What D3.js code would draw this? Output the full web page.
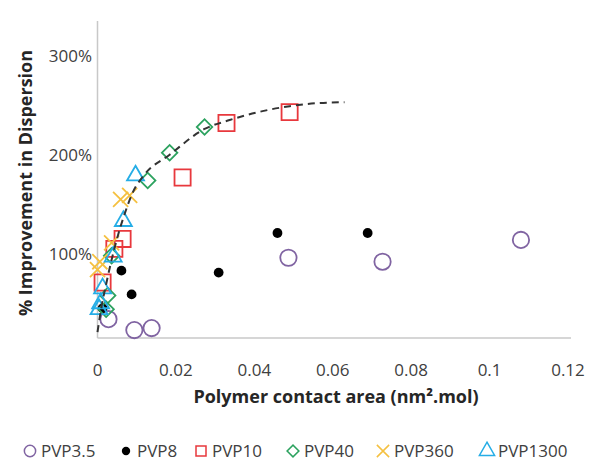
<!DOCTYPE html>
<html><head><meta charset="utf-8">
<script src="https://cdn.jsdelivr.net/npm/d3@7/dist/d3.min.js"></script>
<style>body{margin:0;background:#fff}svg{display:block}text{font-family:"Open Sans",sans-serif}</style>
</head><body>
<svg id="c" width="589" height="463"></svg>
<script>
const xTicks = [0, 0.02, 0.04, 0.06, 0.08, 0.1, 0.12];
const xTickLabels = ["0", "0.02", "0.04", "0.06", "0.08", "0.1", "0.12"];
const yTicks = [100, 200, 300];
const yTickLabels = ["100%", "200%", "300%"];

const pvp35X = [0.0028, 0.0094, 0.0138, 0.0487, 0.0727, 0.108];
const pvp35Y = [34, 23, 25, 96, 92, 114];
const pvp8X = [0.0013, 0.0061, 0.0087, 0.0309, 0.0459, 0.0689];
const pvp8Y = [45, 83, 59, 81, 121, 121];
const pvp10X = [0.0013, 0.0043, 0.0064, 0.0217, 0.0329, 0.049];
const pvp10Y = [71, 105, 115, 177, 232, 243];
const pvp40X = [0.0022, 0.0026, 0.0036, 0.0128, 0.0184, 0.0273];
const pvp40Y = [44, 58, 98, 174, 202, 228];
const pvp360X = [0.0000, 0.0006, 0.0036, 0.0059, 0.0082];
const pvp360Y = [84, 92, 111, 155, 159];
const pvp1300X = [0.0004, 0.0008, 0.0013, 0.0040, 0.0066, 0.0097];
const pvp1300Y = [44, 50, 65, 97, 133, 179];

const trendX = [0.0000, 0.0010, 0.0023, 0.0036, 0.0051, 0.0069, 0.0090, 0.0120, 0.0184, 0.0273, 0.0337, 0.0421, 0.0490, 0.0559, 0.0630];
const trendY = [21, 46, 71, 94, 117, 140, 162, 180, 200, 226, 235, 244, 249, 252, 253];

const seriesNames = ["PVP3.5", "PVP8", "PVP10", "PVP40", "PVP360", "PVP1300"];
const seriesColors = ["#8064a2", "#000000", "#e8383d", "#2ca25f", "#f5c040", "#25ade6"];
const seriesSymbols = [d3.symbolCircle, d3.symbolCircle, d3.symbolSquare, d3.symbolSquare, d3.symbolTimes, d3.symbolTriangle];

const svg = d3.select("#c");
const x = d3.scaleLinear().domain([0, 0.12]).range([97.5, 568]);
const y = d3.scaleLinear().domain([15, 335]).range([338, 21]);

// axes lines
svg.append("line").attr("x1", 97.5).attr("x2", 571).attr("y1", 338).attr("y2", 338)
  .attr("stroke", "#c8c8c8").attr("stroke-width", 1.5);
svg.append("line").attr("x1", 97.5).attr("x2", 97.5).attr("y1", 21).attr("y2", 338)
  .attr("stroke", "#c8c8c8").attr("stroke-width", 1.5);

// x ticks
svg.append("g").selectAll("text").data(xTicks).join("text")
  .attr("x", d => x(d)).attr("y", 370).attr("dy", "0.35em").attr("text-anchor", "middle")
  .attr("font-size", 17).attr("fill", "#404040").text((d, i) => xTickLabels[i]);
// y ticks
svg.append("g").selectAll("text").data(yTicks).join("text")
  .attr("x", 92).attr("y", d => y(d)).attr("dy", "0.35em").attr("text-anchor", "end")
  .attr("font-size", 17).attr("fill", "#404040").text((d, i) => yTickLabels[i]);

// titles
svg.append("text").attr("x", 336).attr("y", 397).attr("dy", "0.35em").attr("text-anchor", "middle")
  .attr("font-size", 18).attr("font-weight", "bold").attr("fill", "#262626")
  .text("Polymer contact area (nm².mol)");
svg.append("text").attr("transform", "translate(26,183) rotate(-90)").attr("dy", "0.35em")
  .attr("text-anchor", "middle").attr("font-size", 18).attr("font-weight", "bold").attr("fill", "#262626")
  .text("% Improvement in Dispersion");

// markers
const seriesData = [
  [pvp35X, pvp35Y], [pvp8X, pvp8Y], [pvp10X, pvp10Y],
  [pvp40X, pvp40Y], [pvp360X, pvp360Y], [pvp1300X, pvp1300Y]
];
const sizes = [210, 75, 260, 120, 150, 125];
function markerAttrs(sel, i) {
  if (i === 1) sel.attr("fill", "#000").attr("stroke", "none");
  else sel.attr("fill", "none").attr("stroke", seriesColors[i]).attr("stroke-width", 1.8);
}
seriesData.forEach(([xs, ys], i) => {
  const pts = xs.map((v, k) => [v, ys[k]]);
  const g = svg.append("g");
  g.selectAll("path").data(pts).join("path")
    .attr("d", d3.symbol(seriesSymbols[i], sizes[i]))
    .attr("transform", d => `translate(${x(d[0])},${y(d[1])})` + (i === 3 ? " rotate(45)" : ""))
    .call(markerAttrs, i);
});

// trend line
const trend = trendX.map((v, k) => [v, trendY[k]]);
svg.append("path").datum(trend)
  .attr("d", d3.line().x(d => x(d[0])).y(d => y(d[1])).curve(d3.curveMonotoneX))
  .attr("fill", "none").attr("stroke", "#333").attr("stroke-width", 2).attr("stroke-dasharray", "7,5");

// legend
const legX = [30, 126, 201, 293, 383, 487];
const lg = svg.append("g");
seriesNames.forEach((n, i) => {
  const s = lg.append("path").attr("d", d3.symbol(seriesSymbols[i], i === 1 ? 55 : (i === 3 ? 70 : 100)))
    .attr("transform", `translate(${legX[i]},451)` + (i === 3 ? " rotate(45)" : ""));
  markerAttrs(s, i);
  if (i !== 1) s.attr("stroke-width", 1.5);
  lg.append("text").attr("x", legX[i] + 11).attr("y", 451).attr("dy", "0.35em")
    .attr("font-size", 17).attr("fill", "#404040").text(n);
});
</script>
</body></html>
